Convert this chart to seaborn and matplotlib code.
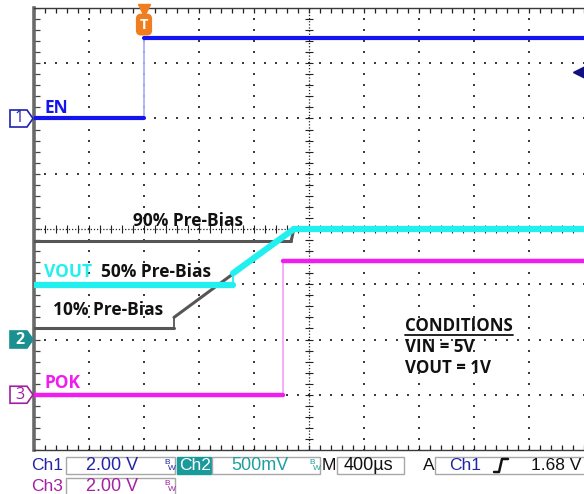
import numpy as np
import pandas as pd
import matplotlib
matplotlib.use("Agg")
import matplotlib.pyplot as plt
import seaborn as sns
from matplotlib.patches import Polygon, Rectangle
from matplotlib.transforms import IdentityTransform
from matplotlib.lines import Line2D

# ---- scope settings ----
T_PER_DIV = 400.0          # µs / div
T_START = -800.0           # trigger sits 2 div from the left edge
N_XDIV, N_YDIV = 10, 8
CH1_VDIV, CH1_POS = 2.0, 6.0   # EN
CH2_VDIV, CH2_POS = 0.5, 2.0   # VOUT
CH3_VDIV, CH3_POS = 2.0, 1.0   # POK
TRIG_LEVEL = 1.68

# ---- waveform breakpoints (time in µs, level in V) ----
en_t = [-800, 0, 0, 3200]
en_v = [0.0, 0.0, 2.92, 2.92]

vout90_t = [-800, 1070, 1090, 3200]
vout90_v = [0.89, 0.89, 1.0, 1.0]

vout10_t = [-800, 218, 218, 1090, 3200]
vout10_v = [0.10, 0.10, 0.20, 1.0, 1.0]

vout50_t = [-800, 648, 648, 1090, 3200]
vout50_v = [0.49, 0.49, 0.60, 1.0, 1.0]

pok_t = [-800, 1011, 1011, 3200]
pok_v = [0.0, 0.0, 4.84, 4.84]

W, H = 584, 494
sns.set_style("white")
plt.rcParams["font.family"] = ["Open Sans", "DejaVu Sans"]

fig = plt.figure(figsize=(W / 100, H / 100), dpi=100)
fig.patch.set_facecolor("white")
ax = fig.add_axes([34 / W, 44 / H, 550 / W, 442 / H])
ax.set_xlim(T_START, T_START + N_XDIV * T_PER_DIV)
ax.set_ylim(0, N_YDIV)
ax.set_xticks([]); ax.set_yticks([])
ax.spines["right"].set_visible(False)
for s in ["top", "bottom"]:
    ax.spines[s].set_color("#3a3a3a"); ax.spines[s].set_linewidth(1.0)
ax.spines["left"].set_color("#6a6a6a"); ax.spines["left"].set_linewidth(2.6)


def xdiv(k):
    return T_START + k * T_PER_DIV


# ---- graticule ----
gx, gy = [], []
fine = np.arange(0, 5 * N_XDIV + 1) / 5.0
fine_y = np.arange(0, 5 * N_YDIV + 1) / 5.0
for i in range(1, N_XDIV):
    if i == 5:
        continue
    for f in fine_y:
        gx.append(xdiv(i)); gy.append(f)
for j in range(1, N_YDIV):
    if j == 4:
        continue
    for f in fine:
        gx.append(xdiv(f)); gy.append(j)
ax.scatter(gx, gy, s=1.3, marker="s", color="#3c3c3c", linewidths=0, zorder=1)

# center cross with minor ticks
ax.axvline(xdiv(5), ls=(0, (1, 1.5)), lw=0.9, color="#222222", zorder=1)
ax.axhline(4, ls=(0, (1, 1.5)), lw=0.9, color="#222222", zorder=1)
ax.plot([xdiv(5)] * len(fine_y), fine_y, ls="none", marker="_", ms=6, mew=0.8,
        color="#222222", zorder=1)
ax.plot([xdiv(f) for f in fine], [4] * len(fine), ls="none", marker="|", ms=6,
        mew=0.8, color="#222222", zorder=1)
# border ticks
ax.plot([xdiv(f) for f in fine], [N_YDIV] * len(fine), ls="none", marker="|",
        ms=7, mew=0.9, color="#222222", zorder=1)
ax.plot([xdiv(f) for f in fine], [0] * len(fine), ls="none", marker="|",
        ms=7, mew=0.9, color="#222222", zorder=1)
ax.plot([xdiv(0)] * len(fine_y), fine_y, ls="none", marker="_", ms=8, mew=0.9,
        color="#444444", zorder=1)


# ---- traces ----
def to_frame(t, v, pos, vdiv):
    rows = []
    for i in range(len(t) - 1):
        edge = t[i] == t[i + 1]
        for k in (i, i + 1):
            rows.append(dict(t=t[k], y=pos + v[k] / vdiv, seg=i, edge=edge))
    return pd.DataFrame(rows)


def draw(t, v, pos, vdiv, color, lw, edge_color, z):
    df = to_frame(t, v, pos, vdiv)
    sns.lineplot(data=df[~df.edge], x="t", y="y", units="seg", estimator=None,
                 sort=False, color=color, lw=lw, ax=ax, zorder=z,
                 legend=False)
    for _, g in df[df.edge].groupby("seg"):
        ax.plot(g.t, g.y, color=edge_color, lw=1.3, zorder=z - 0.5)


BLUE = "#1414ee"
CYAN = "#22f0f0"
GREY = "#565656"
MAG = "#f01cf0"

draw(en_t, en_v, CH1_POS, CH1_VDIV, BLUE, 3.0, "#aab0ff", 4)
draw(vout90_t, vout90_v, CH2_POS, CH2_VDIV, GREY, 2.2, GREY, 3)
draw(vout10_t, vout10_v, CH2_POS, CH2_VDIV, GREY, 2.2, GREY, 3)
draw(vout50_t, vout50_v, CH2_POS, CH2_VDIV, CYAN, 4.5, CYAN, 5)
draw(pok_t, pok_v, CH3_POS, CH3_VDIV, MAG, 3.2, "#f7a8f7", 4)
ax.set_xlabel(""); ax.set_ylabel("")

# ---- trace labels ----
bold = dict(fontweight="bold", fontsize=12.5, va="center", ha="left", zorder=6)
ax.text(-727, 6.19, "EN", color=BLUE, **bold)
ax.text(-80, 4.14, "90% Pre-Bias", color="#111111", **bold)
ax.text(-727, 3.22, "VOUT", color=CYAN, **bold)
ax.text(-313, 3.22, "50% Pre-Bias", color="#111111", **bold)
ax.text(-662, 2.53, "10% Pre-Bias", color="#111111", **bold)
ax.text(-727, 1.21, "POK", color=MAG, **bold)
cond = dict(fontweight="bold", fontsize=12.2, va="center", ha="left",
            color="#111111", zorder=6)
ax.text(1898, 2.24, "CONDITIONS", **cond)
ax.text(1898, 1.86, "VIN = 5V", **cond)
ax.text(1898, 1.48, "VOUT = 1V", **cond)
ax.plot([1898, 2684], [2.08, 2.08], color="#111111", lw=1.3, zorder=6)

# ---- trigger marker and level arrow ----
ax.text(0, 7.7, "T", color="white", fontweight="bold", fontsize=10.5,
        ha="center", va="center", zorder=7,
        bbox=dict(boxstyle="round,pad=0.22,rounding_size=0.3", fc="#f07d1e",
                  ec="#f07d1e"))
ax.plot([0], [7.97], marker="v", ms=8, color="#f07d1e", clip_on=False, zorder=7)
lvl = CH1_POS + TRIG_LEVEL / CH1_VDIV
ax.plot([3165, 3200], [lvl, lvl], color="#101080", lw=2, zorder=7)
ax.plot([3160], [lvl], marker="<", ms=8, color="#101080", zorder=7)

# ---- channel ground markers ----
fig.canvas.draw()
ident = IdentityTransform()


def ground_marker(pos, label, edge, face, txt):
    y = ax.transData.transform((0, pos))[1]
    pts = [(10, y - 8.5), (27, y - 8.5), (33, y), (27, y + 8.5), (10, y + 8.5)]
    fig.patches.append(Polygon(pts, closed=True, fc=face, ec=edge, lw=1.2,
                               transform=ident, figure=fig))
    fig.text(19.5 / W, y / H, label, color=txt, fontsize=11.5, ha="center",
             va="center", fontweight="bold" if face != "white" else "normal")


ground_marker(CH1_POS, "1", "#2020b0", "white", "#2020b0")
ground_marker(CH2_POS, "2", "#1a9090", "#1a9090", "white")
ground_marker(CH3_POS, "3", "#a020a0", "white", "#a020a0")

# ---- status bar ----
SB = ["Liberation Sans", "DejaVu Sans"]


def box(x0, x1, ytop, ybot, fc="white", ec="#a8a8a8"):
    fig.patches.append(Rectangle((x0, H - ybot), x1 - x0, ybot - ytop, fc=fc,
                                 ec=ec, lw=1.0, transform=ident, figure=fig))


def stext(x, ytop, s, color, size=12.5, **kw):
    fig.text(x / W, (H - ytop) / H, s, color=color, fontsize=size,
             family=SB, ha="left", va="center", **kw)


def bw(x, ytop, color):
    stext(x, ytop - 3, "B", color, size=6)
    stext(x + 3.5, ytop + 3, "W", color, size=6)


NAVY = "#2424a8"
TEAL = "#1f9f9f"
PURP = "#a420a4"

R1, R2 = 465.5, 486
box(66, 175, 457, 474)
box(177, 211, 457, 474, fc="#1a9a9a", ec="#1a9a9a")
box(212, 320, 457, 474)
box(337, 404, 457, 474)
box(435, 600, 457, 474)
box(66, 175, 478, 495)

stext(31, R1, "Ch1", NAVY)
stext(86, R1, "2.00 V", NAVY, size=13)
bw(164, R1, NAVY)
stext(179, R1, "Ch2", "white")
stext(231, R1, "500mV", TEAL, size=13)
bw(309, R1, TEAL)
stext(322, R1, "M", "#111111")
stext(344, R1, "400µs", "#111111", size=13)
stext(423, R1, "A", "#111111")
stext(449, R1, "Ch1", NAVY)
fig.lines.append(Line2D([494, 499, 502, 508], [H - 472, H - 472, H - 459, H - 459],
                        color="#111111", lw=1.8, transform=ident, figure=fig))
stext(531, R1, "1.68 V", "#111111", size=12.5)
stext(31, R2, "Ch3", PURP)
stext(86, R2, "2.00 V", PURP, size=13)
bw(164, R2, PURP)

fig.savefig("out.png", dpi=100)
